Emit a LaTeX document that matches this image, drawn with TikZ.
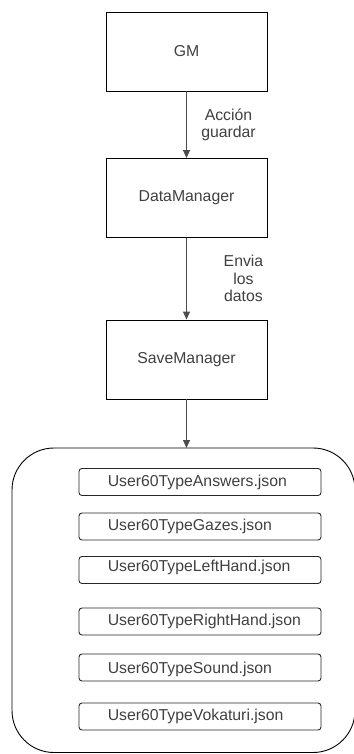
\documentclass[tikz,border=0pt]{standalone}
\usepackage{fontspec}
\setmainfont{Liberation Sans}
\usetikzlibrary{arrows.meta}
\begin{document}
\begin{tikzpicture}[x=1pt,y=-1pt,
  txt/.style={text=black!75,font=\fontsize{15.8}{16}\selectfont},
  block/.style={draw=black,line width=0.9pt,minimum width=161pt,minimum height=79pt,inner sep=0pt,txt},
  file/.style={draw=black!85,line width=0.9pt,rounded corners=3pt,minimum width=242pt,minimum height=27pt,inner sep=0pt},
  flow/.style={draw=black!70,line width=1pt,-{Triangle[width=7pt,length=8pt]}},
  lbl/.style={txt,align=center,inner sep=0pt,font=\fontsize{15.8}{17.5}\selectfont}]
\useasboundingbox (0,0) rectangle (353,754);
\node[block] (gm) at (186.5,51.5) {GM};
\node[block] (dm) at (186.5,198) {DataManager};
\node[block] (sm) at (186.5,359.5) {SaveManager};
\draw[black,line width=0.9pt,rounded corners=42pt] (12,448) rectangle (355,752.5);
\coordinate (ct) at (186.5,448);
\draw[flow] (gm) -- node[lbl,anchor=center,xshift=42pt] {Acción\\guardar} (dm);
\draw[flow] (dm) -- node[lbl,anchor=center,xshift=57pt] {Envia\\los\\datos} (sm);
\draw[flow] (sm) -- (ct);
\foreach \n/\y/\t/\dy in {a/482/User60TypeAnswers.json/0, b/526.5/User60TypeGazes.json/0, c/570/User60TypeLeftHand.json/3, d/621.5/User60TypeRightHand.json/0, e/667.5/User60TypeSound.json/-2, f/716.5/User60TypeVokaturi.json/0}{
  \node[file] (\n) at (200,\y) {};
  \node[txt,anchor=west,inner sep=0pt] (\n t) at ([xshift=29pt,yshift=\dy pt]\n.west) {\t};
}
\end{tikzpicture}
\end{document}
